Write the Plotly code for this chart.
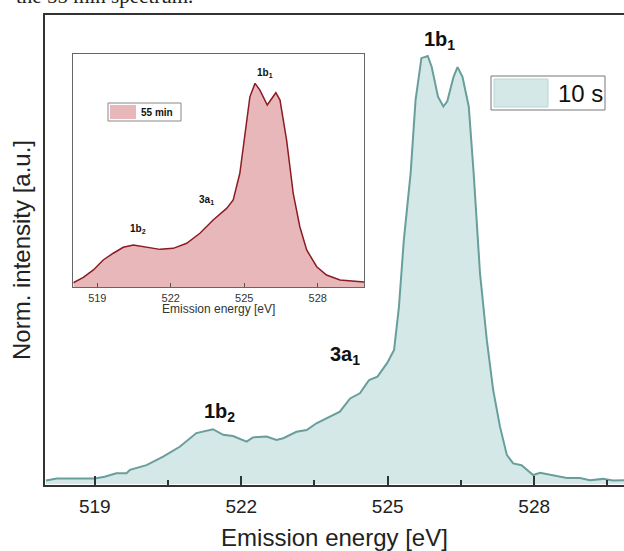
import plotly.graph_objects as go

# ---------------- data ----------------
main_energy = [518.0, 518.22, 518.69, 519.0, 519.2, 519.44, 519.65, 519.72, 520.06, 520.4,
               520.74, 521.08, 521.42, 521.63, 521.83, 522.11, 522.24, 522.52, 522.72, 522.86,
               523.13, 523.34, 523.54, 523.82, 524.02, 524.23, 524.43, 524.57, 524.62, 524.79,
               524.99, 525.13, 525.23, 525.33, 525.47, 525.57, 525.69, 525.82, 525.9, 526.03,
               526.14, 526.22, 526.35, 526.43, 526.53, 526.66, 526.76, 526.89, 527.03, 527.16,
               527.3, 527.44, 527.57, 527.74, 527.85, 527.98, 528.12, 528.32, 528.67, 528.94,
               529.14, 529.41, 529.61, 529.84]
main_intensity = [0.008, 0.013, 0.013, 0.013, 0.017, 0.025, 0.025, 0.033, 0.044, 0.064,
                  0.087, 0.119, 0.128, 0.115, 0.112, 0.099, 0.109, 0.111, 0.103, 0.107,
                  0.122, 0.126, 0.142, 0.157, 0.169, 0.200, 0.212, 0.235, 0.243, 0.251,
                  0.283, 0.313, 0.414, 0.570, 0.727, 0.897, 0.995, 1.000, 0.975, 0.905,
                  0.882, 0.894, 0.952, 0.974, 0.952, 0.882, 0.727, 0.493, 0.336, 0.220,
                  0.134, 0.068, 0.048, 0.044, 0.033, 0.021, 0.026, 0.021, 0.014, 0.014,
                  0.009, 0.012, 0.008, 0.009]

inset_energy = [518.02, 518.43, 518.84, 519.24, 519.65, 520.06, 520.47, 520.88, 521.29, 521.56,
                522.1, 522.65, 523.19, 523.73, 524.28, 524.55, 524.82, 525.03, 525.23, 525.44,
                525.64, 525.94, 526.29, 526.46, 526.73, 527.0, 527.27, 527.55, 527.96, 528.36,
                528.91, 529.89]
inset_intensity = [0.022, 0.049, 0.085, 0.134, 0.167, 0.196, 0.207, 0.199, 0.191, 0.186,
                   0.191, 0.216, 0.265, 0.330, 0.387, 0.428, 0.559, 0.755, 0.934, 1.000,
                   0.967, 0.894, 0.954, 0.918, 0.722, 0.461, 0.297, 0.183, 0.101, 0.060,
                   0.036, 0.026]

tick_values = [519, 522, 525, 528]
tick_labels = ["519", "522", "525", "528"]

main_name = "10 s"
inset_name = "55 min"

# ---------------- layout helpers ----------------
W, H = 624, 551
L, R, T, B = 45, 0, 15, 66
PW, PH = W - L - R, H - T - B


def px(x):
    return (x - L) / PW


def py(y):
    return (H - B - y) / PH


FONT = "Liberation Sans, Arial, sans-serif"

fig = go.Figure()
fig.add_trace(go.Scatter(
    x=main_energy, y=main_intensity, mode="lines", fill="tozeroy",
    fillcolor="#d4e8e7", line=dict(color="#689e9b", width=2),
    xaxis="x", yaxis="y", showlegend=False, name=main_name))
fig.add_trace(go.Scatter(
    x=inset_energy, y=inset_intensity, mode="lines", fill="tozeroy",
    fillcolor="#e8b7b9", line=dict(color="#8b1c24", width=1.5),
    xaxis="x2", yaxis="y2", showlegend=False, name=inset_name))

shapes = [
    # main legend
    dict(type="rect", xref="paper", yref="paper", x0=px(491), x1=px(605), y0=py(110), y1=py(76),
         line=dict(color="#777", width=1), fillcolor="white"),
    dict(type="rect", xref="paper", yref="paper", x0=px(494), x1=px(548), y0=py(107), y1=py(79),
         line=dict(color="#b9d6d5", width=1), fillcolor="#d4e8e7"),
    # inset legend
    dict(type="rect", xref="paper", yref="paper", x0=px(108), x1=px(181), y0=py(121), y1=py(103),
         line=dict(color="#888", width=1), fillcolor="white"),
    dict(type="rect", xref="paper", yref="paper", x0=px(110), x1=px(136), y0=py(119), y1=py(105),
         line=dict(width=0), fillcolor="#e8b7b9"),
]

annotations = [
    dict(text="<b>1b<sub>1</sub></b>", x=526.07, y=1.037, xref="x", yref="y", showarrow=False,
         font=dict(family=FONT, size=20, color="#111")),
    dict(text="<b>3a<sub>1</sub></b>", x=524.12, y=0.301, xref="x", yref="y", showarrow=False,
         font=dict(family=FONT, size=20, color="#111")),
    dict(text="<b>1b<sub>2</sub></b>", x=521.56, y=0.166, xref="x", yref="y", showarrow=False,
         font=dict(family=FONT, size=20, color="#111")),
    dict(text="<b>1b<sub>1</sub></b>", x=525.84, y=1.049, xref="x2", yref="y2", showarrow=False,
         font=dict(family=FONT, size=10, color="#111")),
    dict(text="<b>3a<sub>1</sub></b>", x=523.47, y=0.428, xref="x2", yref="y2", showarrow=False,
         font=dict(family=FONT, size=10, color="#111")),
    dict(text="<b>1b<sub>2</sub></b>", x=520.67, y=0.284, xref="x2", yref="y2", showarrow=False,
         font=dict(family=FONT, size=10, color="#111")),
    dict(text=main_name, x=px(556), y=py(93), xref="paper", yref="paper", xanchor="left",
         yanchor="middle", showarrow=False, font=dict(family=FONT, size=24, color="#111")),
    dict(text="<b>" + inset_name + "</b>", x=px(139), y=py(112), xref="paper", yref="paper",
         xanchor="left", yanchor="middle", showarrow=False,
         font=dict(family=FONT, size=10, color="#111")),
    # inset x-axis title
    dict(text="Emission energy [eV]", x=px(218.6), y=py(309.5), xref="paper", yref="paper",
         xanchor="center", yanchor="middle", showarrow=False,
         font=dict(family=FONT, size=12, color="#333")),
    # clipped caption line at the very top of the page
    dict(text="the 55 min spectrum.", x=px(14), y=py(10), xref="paper", yref="paper",
         xanchor="left", yanchor="bottom", showarrow=False,
         font=dict(family="Liberation Serif, serif", size=21, color="#222")),
]

fig.update_layout(
    width=W, height=H,
    margin=dict(l=L, r=R, t=T, b=B, pad=0),
    paper_bgcolor="white", plot_bgcolor="white",
    showlegend=False,
    font=dict(family=FONT, color="#222"),
    shapes=shapes, annotations=annotations,
    xaxis=dict(
        domain=[0, 1], anchor="y", range=[517.98, 529.84],
        showline=True, linecolor="#333", linewidth=2, mirror=True,
        showgrid=False, zeroline=False,
        ticks="inside", ticklen=9, tickwidth=1.5, tickcolor="#333",
        tickmode="array", tickvals=tick_values, ticktext=tick_labels,
        minor=dict(ticks="inside", ticklen=5, tickwidth=1.5, tickcolor="#333",
                   tickmode="linear", tick0=519, dtick=1.5),
        tickfont=dict(family=FONT, size=19, color="#222"),
        ticklabelstandoff=3,
        title=dict(text="Emission energy [eV]", font=dict(family=FONT, size=24, color="#222"),
                   standoff=16),
        automargin=False,
    ),
    yaxis=dict(
        domain=[0, 1], anchor="x", range=[-0.0023, 1.0958],
        showline=True, linecolor="#333", linewidth=2, mirror=False,
        showgrid=False, zeroline=False, showticklabels=False, ticks="",
        title=dict(text="Norm. intensity [a.u.]", font=dict(family=FONT, size=24, color="#222"),
                   standoff=6),
        automargin=False,
    ),
    xaxis2=dict(
        domain=[px(73.3), px(364)], anchor="y2", range=[518.02, 529.89],
        showline=True, linecolor="#666", linewidth=1, mirror=True,
        showgrid=False, zeroline=False,
        ticks="inside", ticklen=4, tickwidth=1, tickcolor="#555",
        tickmode="array", tickvals=tick_values, ticktext=tick_labels,
        tickfont=dict(family=FONT, size=11, color="#333"),
        automargin=False,
    ),
    yaxis2=dict(
        domain=[py(287.3), py(54)], anchor="x2", range=[0, 1.144],
        showline=True, linecolor="#666", linewidth=1, mirror=True,
        showgrid=False, zeroline=False, showticklabels=False, ticks="",
        automargin=False,
    ),
)

fig.write_html("out.html")
